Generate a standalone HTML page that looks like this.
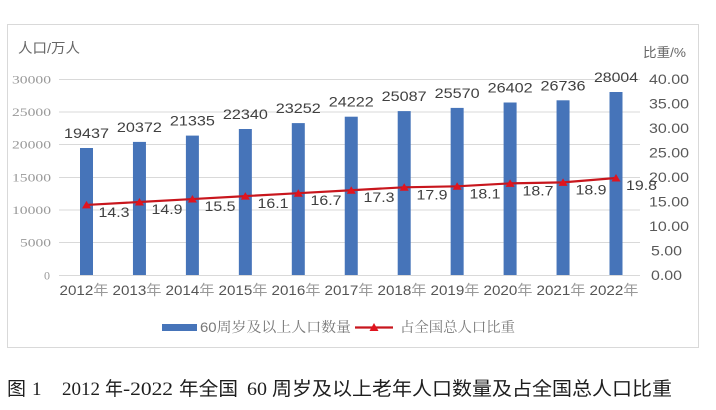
<!DOCTYPE html>
<html>
<head>
<meta charset="utf-8">
<style>
html,body{margin:0;padding:0;background:#fff;}
svg{display:block;}
</style>
</head>
<body>
<svg width="716" height="410" viewBox="0 0 716 410" xmlns="http://www.w3.org/2000/svg">
<rect x="0" y="0" width="716" height="410" fill="#fff"/>
<!-- frame -->
<rect x="7.5" y="24.5" width="691" height="323" fill="#fff" stroke="#d9d9d9" stroke-width="1"/>

<!-- gridlines -->
<g stroke="#d9d9d9" stroke-width="1">
<line x1="59" y1="79.5" x2="640" y2="79.5"/>
<line x1="59" y1="112" x2="640" y2="112"/>
<line x1="59" y1="144.5" x2="640" y2="144.5"/>
<line x1="59" y1="177.5" x2="640" y2="177.5"/>
<line x1="59" y1="210" x2="640" y2="210"/>
<line x1="59" y1="242.5" x2="640" y2="242.5"/>
<line x1="59" y1="275.5" x2="640" y2="275.5"/>
</g>

<!-- titles -->
<text x="18" y="53" font-family="'Liberation Sans','Noto Sans CJK SC',sans-serif" font-size="14" fill="#666" textLength="62" lengthAdjust="spacingAndGlyphs">人口/万人</text>
<text x="643" y="57" font-family="'Liberation Sans','Noto Sans CJK SC',sans-serif" font-size="13" fill="#666" textLength="43" lengthAdjust="spacingAndGlyphs">比重/%</text>

<!-- left ticks -->
<g font-family="'Liberation Serif',serif" font-size="12" fill="#999" text-anchor="end">
<text x="51" y="83.5" textLength="39" lengthAdjust="spacingAndGlyphs">30000</text>
<text x="51" y="116" textLength="39" lengthAdjust="spacingAndGlyphs">25000</text>
<text x="51" y="148.5" textLength="39" lengthAdjust="spacingAndGlyphs">20000</text>
<text x="51" y="181.5" textLength="39" lengthAdjust="spacingAndGlyphs">15000</text>
<text x="51" y="214" textLength="39" lengthAdjust="spacingAndGlyphs">10000</text>
<text x="51" y="246.5" textLength="31" lengthAdjust="spacingAndGlyphs">5000</text>
<text x="50" y="279.5">0</text>
</g>

<!-- right ticks -->
<g font-family="'Liberation Sans',sans-serif" font-size="14" fill="#595959">
<text x="649" y="84" textLength="40" lengthAdjust="spacingAndGlyphs">40.00</text>
<text x="649" y="108.5" textLength="40" lengthAdjust="spacingAndGlyphs">35.00</text>
<text x="649" y="133" textLength="40" lengthAdjust="spacingAndGlyphs">30.00</text>
<text x="649" y="157.5" textLength="40" lengthAdjust="spacingAndGlyphs">25.00</text>
<text x="649" y="182" textLength="40" lengthAdjust="spacingAndGlyphs">20.00</text>
<text x="649" y="206.5" textLength="40" lengthAdjust="spacingAndGlyphs">15.00</text>
<text x="649" y="231" textLength="40" lengthAdjust="spacingAndGlyphs">10.00</text>
<text x="651" y="255.5" textLength="31" lengthAdjust="spacingAndGlyphs">5.00</text>
<text x="651" y="280" textLength="31" lengthAdjust="spacingAndGlyphs">0.00</text>
</g>

<!-- bars -->
<g fill="#4674b9">
<rect x="80" y="148.0" width="13" height="127.0"/>
<rect x="132.95" y="141.9" width="13" height="133.1"/>
<rect x="185.9" y="135.6" width="13" height="139.4"/>
<rect x="238.85" y="129.0" width="13" height="146.0"/>
<rect x="291.8" y="123.1" width="13" height="151.9"/>
<rect x="344.75" y="116.7" width="13" height="158.3"/>
<rect x="397.7" y="111.1" width="13" height="163.9"/>
<rect x="450.65" y="107.9" width="13" height="167.1"/>
<rect x="503.6" y="102.5" width="13" height="172.5"/>
<rect x="556.55" y="100.3" width="13" height="174.7"/>
<rect x="609.5" y="92.0" width="13" height="183.0"/>
</g>

<!-- bar labels -->
<g font-family="'Liberation Sans',sans-serif" font-size="14" fill="#404040" text-anchor="middle">
<text x="86.5" y="138" textLength="45" lengthAdjust="spacingAndGlyphs">19437</text>
<text x="139.45" y="131.9" textLength="45" lengthAdjust="spacingAndGlyphs">20372</text>
<text x="192.4" y="125.6" textLength="45" lengthAdjust="spacingAndGlyphs">21335</text>
<text x="245.35" y="119" textLength="45" lengthAdjust="spacingAndGlyphs">22340</text>
<text x="298.3" y="113.1" textLength="45" lengthAdjust="spacingAndGlyphs">23252</text>
<text x="351.25" y="106.7" textLength="45" lengthAdjust="spacingAndGlyphs">24222</text>
<text x="404.2" y="101.1" textLength="45" lengthAdjust="spacingAndGlyphs">25087</text>
<text x="457.15" y="97.9" textLength="45" lengthAdjust="spacingAndGlyphs">25570</text>
<text x="510.1" y="92.5" textLength="45" lengthAdjust="spacingAndGlyphs">26402</text>
<text x="563.05" y="90.3" textLength="45" lengthAdjust="spacingAndGlyphs">26736</text>
<text x="616" y="82" textLength="44" lengthAdjust="spacingAndGlyphs">28004</text>
</g>

<!-- line -->
<polyline fill="none" stroke="#c8161d" stroke-width="2.2" points="86.5,204.93 139.45,201.99 192.4,199.05 245.35,196.11 298.3,193.17 351.25,190.23 404.2,187.29 457.15,186.31 510.1,183.37 563.05,182.39 616,177.98"/>
<g fill="#e0141e">
<polygon points="86.5,200.9 82,208.4 91,208.4"/>
<polygon points="139.45,198.0 134.95,205.5 143.95,205.5"/>
<polygon points="192.4,195.0 187.9,202.5 196.9,202.5"/>
<polygon points="245.35,192.1 240.85,199.6 249.85,199.6"/>
<polygon points="298.3,189.2 293.8,196.7 302.8,196.7"/>
<polygon points="351.25,186.2 346.75,193.7 355.75,193.7"/>
<polygon points="404.2,183.3 399.7,190.8 408.7,190.8"/>
<polygon points="457.15,182.3 452.65,189.8 461.65,189.8"/>
<polygon points="510.1,179.4 505.6,186.9 514.6,186.9"/>
<polygon points="563.05,178.4 558.55,185.9 567.55,185.9"/>
<polygon points="616,174.0 611.5,181.5 620.5,181.5"/>
</g>

<!-- line labels -->
<g font-family="'Liberation Sans',sans-serif" font-size="14" fill="#404040">
<text x="98.5" y="217" textLength="31" lengthAdjust="spacingAndGlyphs">14.3</text>
<text x="151.5" y="214" textLength="31" lengthAdjust="spacingAndGlyphs">14.9</text>
<text x="204.5" y="211" textLength="31" lengthAdjust="spacingAndGlyphs">15.5</text>
<text x="257.5" y="208.1" textLength="31" lengthAdjust="spacingAndGlyphs">16.1</text>
<text x="310.5" y="205.2" textLength="31" lengthAdjust="spacingAndGlyphs">16.7</text>
<text x="363.5" y="202.2" textLength="31" lengthAdjust="spacingAndGlyphs">17.3</text>
<text x="416.5" y="199.3" textLength="31" lengthAdjust="spacingAndGlyphs">17.9</text>
<text x="469.5" y="198.3" textLength="31" lengthAdjust="spacingAndGlyphs">18.1</text>
<text x="522.5" y="195.4" textLength="31" lengthAdjust="spacingAndGlyphs">18.7</text>
<text x="575.5" y="194.4" textLength="31" lengthAdjust="spacingAndGlyphs">18.9</text>
<text x="626" y="190" textLength="31" lengthAdjust="spacingAndGlyphs">19.8</text>
</g>

<!-- x labels -->
<g font-family="'Liberation Sans','Noto Sans CJK SC',sans-serif" font-size="14" fill="#555" text-anchor="middle">
<text x="84" y="295" textLength="49" lengthAdjust="spacingAndGlyphs">2012<tspan fill="#999">年</tspan></text>
<text x="137" y="295" textLength="49" lengthAdjust="spacingAndGlyphs">2013<tspan fill="#999">年</tspan></text>
<text x="190" y="295" textLength="49" lengthAdjust="spacingAndGlyphs">2014<tspan fill="#999">年</tspan></text>
<text x="243" y="295" textLength="49" lengthAdjust="spacingAndGlyphs">2015<tspan fill="#999">年</tspan></text>
<text x="296" y="295" textLength="49" lengthAdjust="spacingAndGlyphs">2016<tspan fill="#999">年</tspan></text>
<text x="349" y="295" textLength="49" lengthAdjust="spacingAndGlyphs">2017<tspan fill="#999">年</tspan></text>
<text x="402" y="295" textLength="49" lengthAdjust="spacingAndGlyphs">2018<tspan fill="#999">年</tspan></text>
<text x="455" y="295" textLength="49" lengthAdjust="spacingAndGlyphs">2019<tspan fill="#999">年</tspan></text>
<text x="508" y="295" textLength="49" lengthAdjust="spacingAndGlyphs">2020<tspan fill="#999">年</tspan></text>
<text x="561" y="295" textLength="49" lengthAdjust="spacingAndGlyphs">2021<tspan fill="#999">年</tspan></text>
<text x="614" y="295" textLength="49" lengthAdjust="spacingAndGlyphs">2022<tspan fill="#999">年</tspan></text>
</g>

<!-- legend -->
<rect x="162" y="324" width="35" height="7" fill="#4674b9"/>
<text x="200" y="332" font-family="'Liberation Sans','Noto Serif CJK SC',serif" font-size="14" fill="#777" textLength="151" lengthAdjust="spacingAndGlyphs">60周岁及以上人口数量</text>
<line x1="355" y1="327.5" x2="393" y2="327.5" stroke="#c8161d" stroke-width="2.2"/>
<polygon points="374,323 369.5,331 378.5,331" fill="#e0141e"/>
<text x="400" y="332" font-family="'Liberation Sans','Noto Serif CJK SC',serif" font-size="14" fill="#777" textLength="115" lengthAdjust="spacingAndGlyphs">占全国总人口比重</text>

<!-- caption -->
<g font-family="'Liberation Serif','Noto Sans CJK SC',sans-serif" font-size="19" fill="#1e1e1e">
<text x="7" y="395">图</text>
<text x="32" y="395">1</text>
<text x="62" y="395" textLength="38" lengthAdjust="spacingAndGlyphs">2012</text>
<text x="105" y="395" textLength="18" lengthAdjust="spacingAndGlyphs">年</text>
<text x="123" y="395" textLength="50" lengthAdjust="spacingAndGlyphs">-2022</text>
<text x="179" y="395" textLength="59" lengthAdjust="spacingAndGlyphs">年全国</text>
<text x="247" y="395" textLength="20" lengthAdjust="spacingAndGlyphs">60</text>
<text x="272" y="395" textLength="400" lengthAdjust="spacingAndGlyphs">周岁及以上老年人口数量及占全国总人口比重</text>
</g>
</svg>
</body>
</html>
